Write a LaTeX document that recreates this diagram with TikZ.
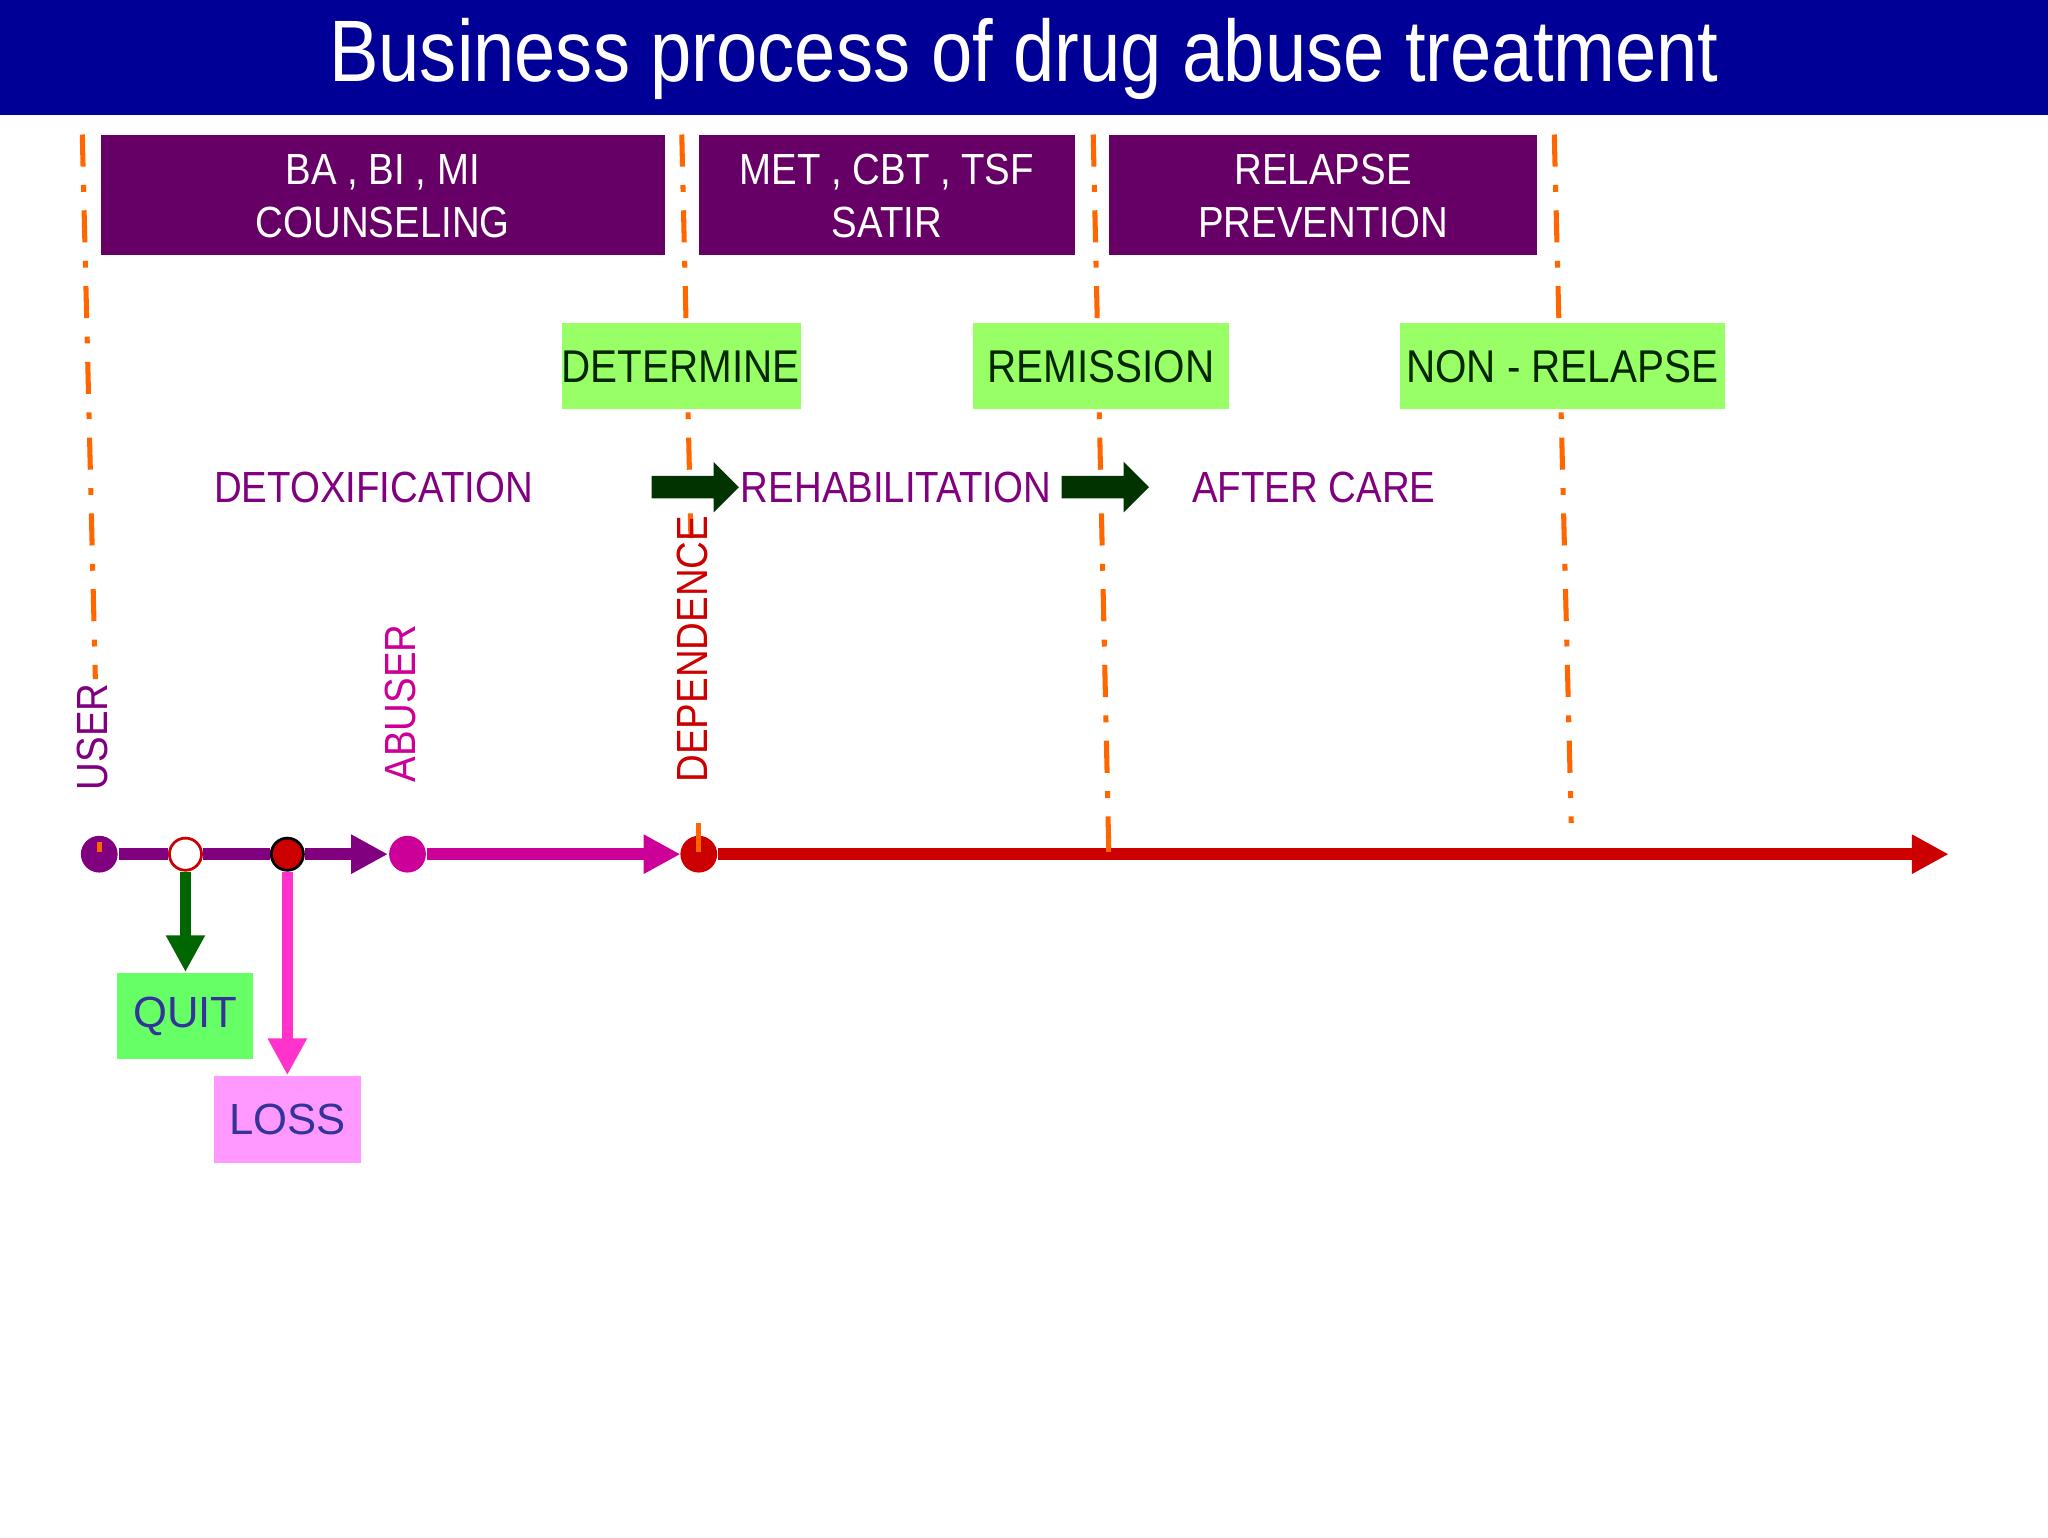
\documentclass[tikz,border=0pt]{standalone}
\usepackage{fontspec}
\setmainfont{Liberation Sans}
\usetikzlibrary{arrows.meta,shapes.arrows}
\definecolor{navy}{RGB}{0,0,150}
\definecolor{plum}{RGB}{102,0,102}
\definecolor{lgreen}{RGB}{153,255,102}
\definecolor{qgreen}{RGB}{102,255,102}
\definecolor{orng}{RGB}{255,102,0}
\definecolor{purp}{RGB}{128,0,128}
\definecolor{mag}{RGB}{204,0,153}
\definecolor{dred}{RGB}{204,0,0}
\definecolor{dkgreen}{RGB}{0,51,0}
\definecolor{pink}{RGB}{255,153,255}
\definecolor{hotpink}{RGB}{255,51,204}
\definecolor{txtblue}{RGB}{51,51,153}
\begin{document}
\begin{tikzpicture}[x=0.01cm,y=-0.01cm,
  pbox/.style={fill=plum,text=white,align=center,font=\fontsize{9.5}{11.5}\selectfont,xscale=0.88,transform shape},
  gbox/.style={fill=lgreen,text=black!80!green,font=\fontsize{9.5}{11}\selectfont},
  olab/.style={orng,line width=1.1pt,dash pattern=on 7pt off 4pt on 1.5pt off 4pt},
  stage/.style={font=\fontsize{9.5}{11}\selectfont,text=purp},
  barrow/.style={single arrow,fill=dkgreen,minimum width=11pt,single arrow head extend=1.5pt,minimum height=19pt,inner sep=1pt},
  rot/.style={rotate=90,anchor=west,font=\fontsize{9.5}{11}\selectfont}]
\useasboundingbox (0,0) rectangle (1568,1177);
\fill[navy] (0,0) rectangle (1568,88);
\node[text=white,font=\fontsize{19}{22}\selectfont,xscale=0.85] (title) at (784,45) {Business process of drug abuse treatment};
% dashed lines
\draw[olab] (63,103) -- (73,520);
\draw[olab] (522,103) -- (529,412);
\draw[olab] (837,103) -- (849,655);
\draw[olab] (1190,103) -- (1203,630);
% purple boxes
\fill[plum] (77,103) rectangle (509,195);
\fill[plum] (535,103) rectangle (823,195);
\fill[plum] (849,103) rectangle (1177,195);
\node[pbox,fill=none] (b1) at (293,150) {BA , BI , MI\\COUNSELING};
\node[pbox,fill=none] (b2) at (679,150) {MET , CBT , TSF\\SATIR};
\node[pbox,fill=none] (b3) at (1013,150) {RELAPSE\\PREVENTION};
% green boxes
\fill[lgreen] (430,247) rectangle (613,313);
\fill[lgreen] (745,247) rectangle (941,313);
\fill[lgreen] (1072,247) rectangle (1321,313);
\node[font=\fontsize{10}{11}\selectfont,text=black!85!green,xscale=0.88] (g1) at (521,281) {DETERMINE};
\node[font=\fontsize{10}{11}\selectfont,text=black!85!green,xscale=0.88] (g2) at (843,281) {REMISSION};
\node[font=\fontsize{10}{11}\selectfont,text=black!85!green,xscale=0.88] (g3) at (1196,281) {NON - RELAPSE};
% stages
\node[stage,xscale=0.88] (s1) at (286,373) {DETOXIFICATION};
\node[stage,xscale=0.88] (s2) at (686,373) {REHABILITATION};
\node[stage,xscale=0.88] (s3) at (1006,373) {AFTER CARE};
\node[barrow] (a1) at (528,373) {};
\node[barrow] (a2) at (842,373) {};
% rotated labels
\node[rot,text=purp,xscale=0.88] (user) at (71,616) {USER};
\node[rot,text=mag,xscale=0.88] (abuser) at (307,610) {ABUSER};
\node[rot,text=dred,xscale=0.88] (dep) at (530,610) {DEPENDENCE};
% timeline
\coordinate (pend) at (297,654);
\coordinate (mend) at (521,654);
\coordinate (rend) at (1492,654);
\node[circle,fill=purp,minimum size=8pt,inner sep=0] (c0) at (76,654) {};
\node[circle,fill=white,draw=dred,line width=0.6pt,minimum size=7pt,inner sep=0] (c1) at (142,654) {};
\node[circle,fill=dred,draw=black,line width=0.6pt,minimum size=7pt,inner sep=0] (c2) at (220,654) {};
\node[circle,fill=mag,minimum size=8pt,inner sep=0] (c3) at (312,654) {};
\node[circle,fill=dred,minimum size=8pt,inner sep=0] (c4) at (535,654) {};
\draw[purp,line width=2.5pt] (c0) -- (c1) (c1) -- (c2);
\draw[purp,line width=2.5pt,-{Triangle[length=8pt,width=8pt]}] (c2) -- (pend);
\draw[mag,line width=2.5pt,-{Triangle[length=8pt,width=8pt]}] (c3) -- (mend);
\draw[dred,line width=2.5pt,-{Triangle[length=8pt,width=8pt]}] (c4) -- (rend);
\draw[orng,line width=1.1pt] (76,645) -- (76,652) (535,630) -- (535,652) (849,640) -- (849,652);
% quit/loss
\node[fill=qgreen,minimum width=29.6pt,minimum height=18.8pt,text=txtblue,font=\fontsize{9.5}{11}\selectfont] (quit) at (142,778) {QUIT};
\node[fill=pink,minimum width=29.9pt,minimum height=18.8pt,text=txtblue,font=\fontsize{9.5}{11}\selectfont] (loss) at (220,857) {LOSS};
\draw[green!40!black,line width=2.5pt,-{Triangle[length=8pt,width=8pt]}] (c1) -- (quit);
\draw[hotpink,line width=2.5pt,-{Triangle[length=8pt,width=8pt]}] (c2) -- (loss);
\end{tikzpicture}
\end{document}
